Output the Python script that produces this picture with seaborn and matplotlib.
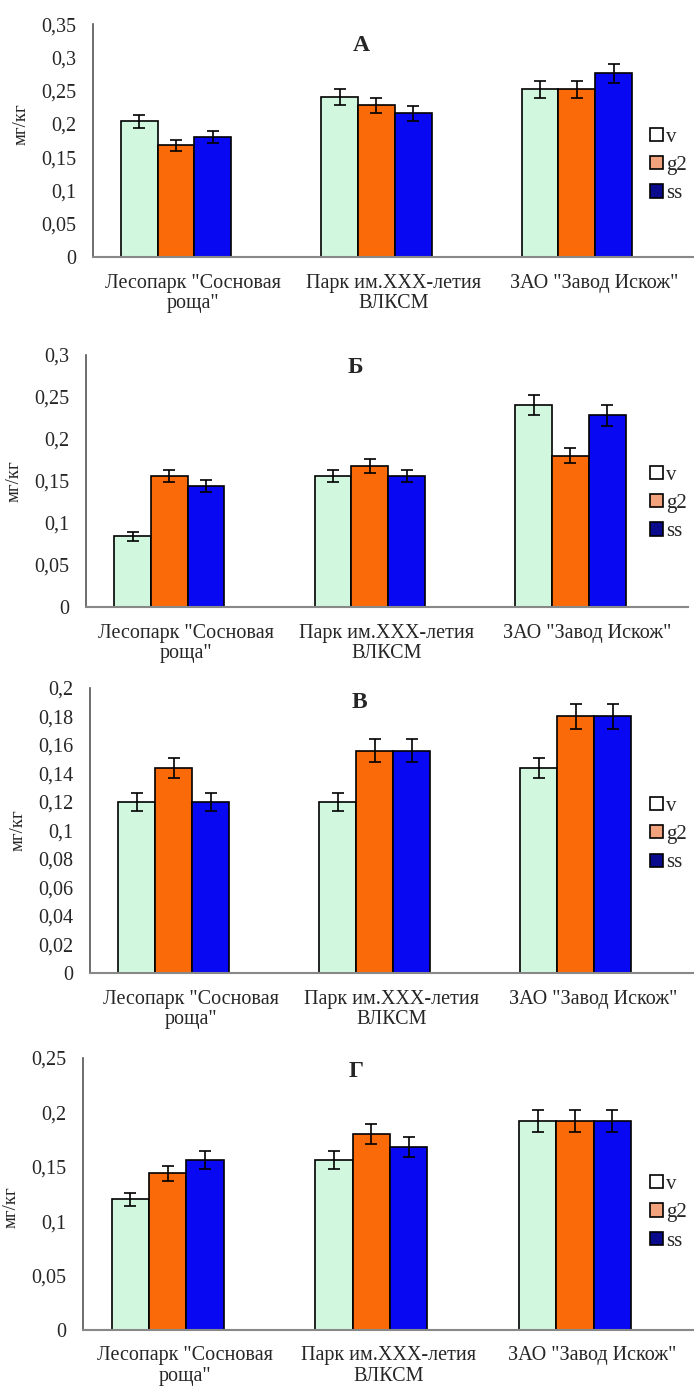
import numpy as np
import pandas as pd
import matplotlib
matplotlib.use("Agg")
import matplotlib.pyplot as plt
from matplotlib.patches import Patch
import seaborn as sns

# ========== DATA ==========
sites = ['Лесопарк "Сосновая\nроща"', 'Парк им.XXX-летия\nВЛКСМ', 'ЗАО "Завод Искож"']
series = ["v", "g2", "ss"]
panel_titles = ["А", "Б", "В", "Г"]

# values per panel: rows = series (v, g2, ss), cols = sites
vals_a = [[0.204, 0.240, 0.252], [0.168, 0.228, 0.252], [0.180, 0.216, 0.276]]
err_a = [[0.010, 0.012, 0.013], [0.008, 0.011, 0.013], [0.009, 0.011, 0.014]]
vals_b = [[0.084, 0.156, 0.240], [0.156, 0.168, 0.180], [0.144, 0.156, 0.228]]
err_b = [[0.005, 0.007, 0.012], [0.007, 0.008, 0.009], [0.007, 0.007, 0.012]]
vals_v = [[0.120, 0.120, 0.144], [0.144, 0.156, 0.180], [0.120, 0.156, 0.180]]
err_v = [[0.006, 0.006, 0.007], [0.007, 0.008, 0.009], [0.006, 0.008, 0.009]]
vals_g = [[0.120, 0.156, 0.192], [0.144, 0.180, 0.192], [0.156, 0.168, 0.192]]
err_g = [[0.006, 0.008, 0.010], [0.007, 0.009, 0.010], [0.008, 0.009, 0.010]]

yticks_a = [0, 0.05, 0.1, 0.15, 0.2, 0.25, 0.3, 0.35]
ylabels_a = ["0", "0,05", "0,1", "0,15", "0,2", "0,25", "0,3", "0,35"]
yticks_b = [0, 0.05, 0.1, 0.15, 0.2, 0.25, 0.3]
ylabels_b = ["0", "0,05", "0,1", "0,15", "0,2", "0,25", "0,3"]
yticks_v = [0, 0.02, 0.04, 0.06, 0.08, 0.1, 0.12, 0.14, 0.16, 0.18, 0.2]
ylabels_v = ["0", "0,02", "0,04", "0,06", "0,08", "0,1", "0,12", "0,14", "0,16", "0,18", "0,2"]
yticks_g = [0, 0.05, 0.1, 0.15, 0.2, 0.25]
ylabels_g = ["0", "0,05", "0,1", "0,15", "0,2", "0,25"]

bar_colors = ["#D2F7DF", "#FA6A08", "#0808F2"]
legend_colors = ["#FFFFFF", "#F2A27C", "#0A0A8C"]

# ========== STYLE ==========
sns.set_style("white")
plt.rcParams["font.family"] = ["Liberation Serif", "DejaVu Serif"]
plt.rcParams["font.size"] = 14

fig = plt.figure(figsize=(6.94, 13.91), dpi=100)

# axes rects [left, bottom, width, height]
rects = [
    [0.134, 0.8152, 0.866, 0.1675],
    [0.124, 0.5636, 0.867, 0.1812],
    [0.130, 0.3005, 0.869, 0.2049],
    [0.120, 0.0440, 0.880, 0.1954],
]
panels = [
    (vals_a, err_a, yticks_a, ylabels_a, 0.881, 0.57, 0.91),
    (vals_b, err_b, yticks_b, ylabels_b, 0.638, 0.5, 0.95),
    (vals_v, err_v, yticks_v, ylabels_v, 0.400, 0.5, 0.95),
    (vals_g, err_g, yticks_g, ylabels_g, 0.128, 0.45, 0.95),
]

shift = 0.085
for rect, title, (vals, errs, yt, yl, leg_y, lab_y, tit_y) in zip(rects, panel_titles, panels):
    ax = fig.add_axes(rect)
    df = pd.DataFrame({
        "site": [s for _ in series for s in sites],
        "series": [h for h in series for _ in sites],
        "value": np.array(vals).ravel(),
    })
    sns.barplot(data=df, x="site", y="value", hue="series", order=sites,
                hue_order=series, palette=bar_colors, width=0.55,
                edgecolor="black", linewidth=1.2, errorbar=None,
                legend=False, saturation=1, ax=ax)

    # error bars on top of library-placed bars
    for cont, e in zip(ax.containers, errs):
        xs = [b.get_x() + b.get_width() / 2 for b in cont]
        hs = [b.get_height() for b in cont]
        ax.errorbar(xs, hs, yerr=e, fmt="none", ecolor="black",
                    elinewidth=1.2, capsize=4, capthick=1.2)

    ax.set_xlim(-0.5 + shift, 2.5 + shift)
    ax.set_ylim(yt[0], yt[-1])
    ax.set_yticks(yt)
    ax.set_yticklabels(yl)
    ax.set_xticks([i + shift for i in range(3)])
    ax.set_xticklabels(sites, fontsize=14.5, linespacing=1.1)
    ax.set_xticks([i - 0.5 + shift for i in range(4)], minor=True)
    ax.tick_params(axis="x", which="major", length=0, pad=12)
    ax.tick_params(axis="x", which="minor", length=5, color="#777777", direction="out")
    ax.tick_params(axis="y", length=4, color="#555555", direction="out", labelsize=14.5, pad=8)
    ax.set_xlabel("")
    ax.set_ylabel("мг/кг", fontsize=13.5)
    ax.yaxis.set_label_coords(-0.105, lab_y)
    for sp in ["top", "right"]:
        ax.spines[sp].set_visible(False)
    ax.spines["left"].set_color("#555555")
    ax.spines["bottom"].set_color("#888888")
    ax.spines["left"].set_linewidth(1.2)
    ax.spines["bottom"].set_linewidth(1.5)

    ax.text(0.447, tit_y, title, transform=ax.transAxes, ha="center", va="center",
            fontsize=17, fontweight="bold")

    handles = [Patch(facecolor=c, edgecolor="black", linewidth=1.2) for c in legend_colors]
    fig.legend(handles, series, loc="center left", bbox_to_anchor=(0.925, leg_y),
               frameon=False, fontsize=15, handlelength=0.6, handleheight=0.6,
               handletextpad=0.15, labelspacing=0.45, borderaxespad=0)

fig.savefig("out.png", dpi=100)
